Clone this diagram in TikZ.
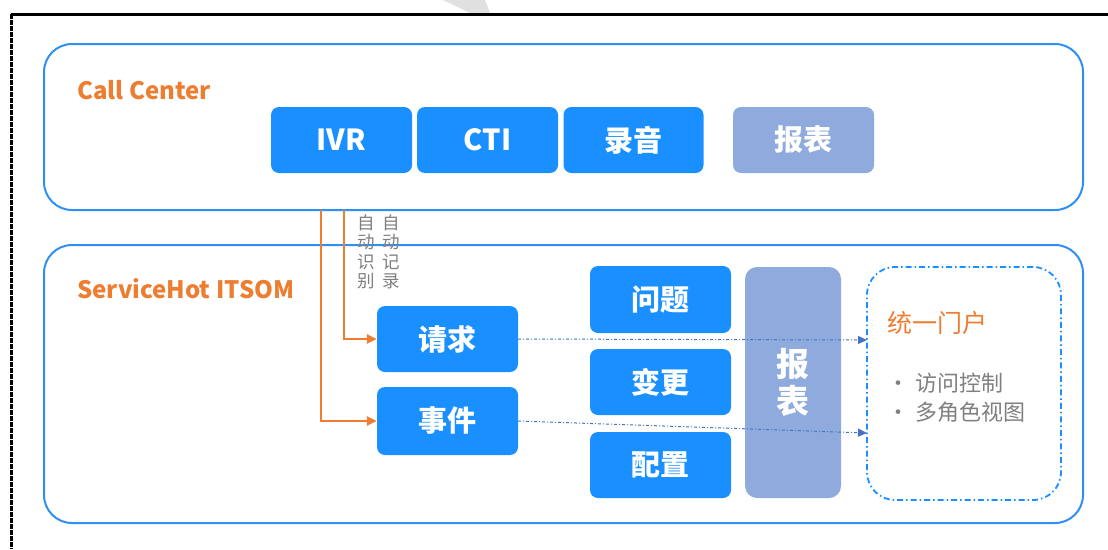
\documentclass[tikz,border=0pt]{standalone}
\usepackage{fontspec}
\setmainfont{Noto Sans CJK SC}
\usetikzlibrary{arrows.meta}
\definecolor{boxblue}{RGB}{26,143,255}
\definecolor{edgeblue}{RGB}{46,143,245}
\definecolor{repblue}{RGB}{143,170,220}
\definecolor{orangec}{RGB}{237,125,49}
\definecolor{greyc}{RGB}{127,127,127}
\definecolor{linkblue}{RGB}{68,114,196}
\definecolor{wmgrey}{RGB}{224,224,224}
\tikzset{
  outerbox/.style={draw=edgeblue,line width=2pt,rounded corners=28pt,minimum width=1039pt,inner sep=0pt},
  bluebox/.style={fill=boxblue,rounded corners=8pt,minimum width=141pt,minimum height=66pt,inner sep=0pt,text=white,font=\fontsize{29}{32}\selectfont\bfseries},
  repbox/.style={fill=repblue,rounded corners=8pt,inner sep=0pt,text=white,font=\fontsize{29}{32}\selectfont\bfseries},
  title/.style={anchor=west,text=orangec,inner sep=0pt,font=\fontsize{24}{27}\selectfont\bfseries},
  vtext/.style={text=greyc,inner sep=0pt,align=center,font=\fontsize{17.5}{19.5}\selectfont},
  feed/.style={draw=orangec,line width=2.4pt,-{Triangle[length=10pt,width=9pt]}},
  link/.style={draw=linkblue,line width=1pt,dash pattern=on 3pt off 2pt on 1pt off 2pt,-{Triangle[length=9pt,width=8pt]}},
  portal/.style={draw=boxblue,line width=1.8pt,dash pattern=on 6pt off 3pt on 1.5pt off 3pt,rounded corners=28pt,minimum width=194pt,minimum height=233pt,inner sep=0pt},
  bullet/.style={anchor=west,text=greyc,inner sep=0pt,font=\fontsize{22}{25}\selectfont}
}
\begin{document}
\begin{tikzpicture}[x=1pt,y=-1pt]
\useasboundingbox (0,0) rectangle (1108,549);
% watermark fragment and frame
\fill[wmgrey] (443,0) -- (485,0) -- (490,13) -- (470,13) -- cycle;
\draw[black,line width=3pt] (11,14) -- (1108,14);
\draw[black,line width=3pt,dash pattern=on 5pt off 1pt] (11,14) -- (11,549);
% outer boxes
\node[outerbox,minimum height=166pt] (cc) at (563.5,127) {};
\node[outerbox,minimum height=278pt] (sh) at (563.5,384) {};
\node[title] (cctitle) at (77,90) {Call Center};
\node[title] (shtitle) at (77,289) {ServiceHot ITSOM};
% call center boxes
\node[bluebox] (ivr) at (341.5,140) {IVR};
\node[bluebox] (cti) at (487.5,140) {CTI};
\node[bluebox,minimum width=140pt] (rec) at (633.5,140) {录音};
\node[repbox,minimum width=141pt,minimum height=66pt] (rep1) at (803.5,140) {报表};
% servicehot boxes
\node[bluebox] (req) at (447.5,339) {请求};
\node[bluebox,minimum height=68pt] (ev) at (447.5,421) {事件};
\node[bluebox,minimum height=67pt] (prob) at (660.5,299.5) {问题};
\node[bluebox] (chg) at (660.5,382) {变更};
\node[bluebox] (cfg) at (660.5,465) {配置};
\node[repbox,rounded corners=12pt,minimum width=96pt,minimum height=231pt,align=center,font=\fontsize{33}{37}\selectfont\bfseries] (rep2) at (793,382.5) {报\\表};
% portal
\node[portal] (por) at (964,383.5) {};
\node[anchor=west,text=orangec,inner sep=0pt,font=\fontsize{25}{28}\selectfont] (portt) at (887,323) {统一门户};
\node[bullet] (b1) at (887,383) {•\hspace{6pt}访问控制};
\node[bullet] (b2) at (887,412) {•\hspace{6pt}多角色视图};
% vertical labels
\node[vtext] (lab1) at (366,252) {自\\动\\识\\别};
\node[vtext] (lab2) at (391,252) {自\\动\\记\\录};
% feeds
\coordinate (s1) at (321,210);
\coordinate (s2) at (344,210);
\draw[feed] (s1) |- (ev.west);
\draw[feed] (s2) |- (req.west);
% links
\coordinate (e1) at (867,340);
\coordinate (e2) at (867,433);
\draw[link] (req.east) -- (e1);
\draw[link] (ev.east) -- (e2);
\end{tikzpicture}
\end{document}
